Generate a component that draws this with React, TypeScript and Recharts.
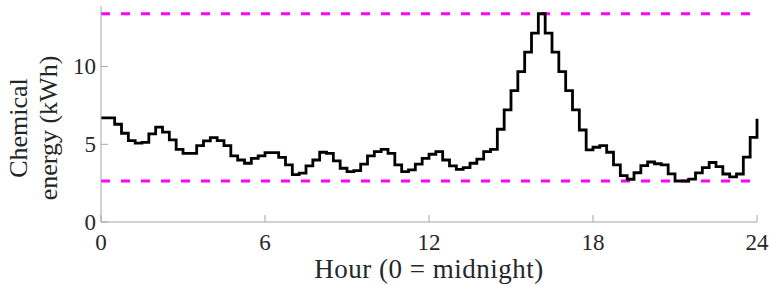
import React from "react";
import {
  LineChart,
  Line,
  XAxis,
  YAxis,
  ReferenceLine,
  Label,
} from "recharts";

// quarter-hour time stamps, 0 .. 24
const HOURS = [
  0, 0.25, 0.5, 0.75, 1, 1.25, 1.5, 1.75,
  2, 2.25, 2.5, 2.75, 3, 3.25, 3.5, 3.75,
  4, 4.25, 4.5, 4.75, 5, 5.25, 5.5, 5.75,
  6, 6.25, 6.5, 6.75, 7, 7.25, 7.5, 7.75,
  8, 8.25, 8.5, 8.75, 9, 9.25, 9.5, 9.75,
  10, 10.25, 10.5, 10.75, 11, 11.25, 11.5, 11.75,
  12, 12.25, 12.5, 12.75, 13, 13.25, 13.5, 13.75,
  14, 14.25, 14.5, 14.75, 15, 15.25, 15.5, 15.75,
  16, 16.25, 16.5, 16.75, 17, 17.25, 17.5, 17.75,
  18, 18.25, 18.5, 18.75, 19, 19.25, 19.5, 19.75,
  20, 20.25, 20.5, 20.75, 21, 21.25, 21.5, 21.75,
  22, 22.25, 22.5, 22.75, 23, 23.25, 23.5, 23.75,
  24,
];

// chemical energy (kWh)
const ENERGY = [
  6.7, 6.7, 6.29, 5.71, 5.24, 5.07, 5.13, 5.67,
  6.1, 5.78, 5.28, 4.68, 4.42, 4.42, 4.92, 5.22,
  5.43, 5.24, 4.92, 4.25, 3.99, 3.78, 4.1, 4.25,
  4.46, 4.46, 4.16, 3.67, 3.05, 3.14, 3.61, 3.99,
  4.49, 4.42, 3.93, 3.46, 3.24, 3.3, 3.73, 4.25,
  4.53, 4.68, 4.42, 3.67, 3.24, 3.35, 3.72, 4.1,
  4.36, 4.53, 3.99, 3.61, 3.39, 3.5, 3.78, 4.04,
  4.53, 4.68, 5.97, 7.21, 8.46, 9.68, 10.93, 12.15,
  13.4, 12.15, 10.93, 9.68, 8.46, 7.21, 5.92, 4.64,
  4.81, 4.91, 4.49, 3.67, 2.98, 2.75, 3.17, 3.63,
  3.86, 3.75, 3.68, 3.1, 2.64, 2.64, 2.76, 3.16,
  3.5, 3.83, 3.56, 3.09, 2.9, 3.09, 4.18, 5.44,
  6.65,
];

const UPPER_LIMIT = 13.4;
const LOWER_LIMIT = 2.64;

const X_TICKS = [0, 6, 12, 18, 24];
const Y_TICKS = [0, 5, 10];

const data = HOURS.map((h, i) => ({ hour: h, energy: ENERGY[i] }));

const FONT = '"Liberation Serif", "DejaVu Serif", serif';
const AXIS = "#a6a6a6";
const TEXT = "#262626";
const TICK_LEN = 7;

const BottomTick = ({ x, y, payload }: any) => (
  <g>
    <line x1={x} x2={x} y1={y} y2={y - TICK_LEN} stroke={AXIS} />
    <text
      x={x}
      y={y + 28}
      textAnchor="middle"
      style={{ fontFamily: FONT, fontSize: 23, fill: TEXT }}
    >
      {payload.value}
    </text>
  </g>
);

const TopTick = ({ x, y }: any) => (
  <line x1={x} x2={x} y1={y} y2={y + TICK_LEN} stroke={AXIS} />
);

const LeftTick = ({ x, y, payload }: any) => (
  <g>
    <line x1={x} x2={x + TICK_LEN} y1={y} y2={y} stroke={AXIS} />
    <text
      x={x - 5}
      y={y + 7.5}
      textAnchor="end"
      style={{ fontFamily: FONT, fontSize: 23, fill: TEXT }}
    >
      {payload.value}
    </text>
  </g>
);

const RightTick = ({ x, y }: any) => (
  <line x1={x} x2={x - TICK_LEN} y1={y} y2={y} stroke={AXIS} />
);

const YLabel = ({ viewBox }: any) => {
  const cy = viewBox.y + viewBox.height / 2 + 14;
  const style = { fontFamily: FONT, fontSize: 26, fill: TEXT };
  return (
    <g>
      <text x={27} y={cy} textAnchor="middle" transform={`rotate(-90, 27, ${cy})`} style={style}>
        Chemical
      </text>
      <text x={57} y={cy} textAnchor="middle" transform={`rotate(-90, 57, ${cy})`} style={style}>
        energy (kWh)
      </text>
    </g>
  );
};

export default function App() {
  return (
    <div style={{ background: "#fff", width: 771, height: 286 }}>
      <style>{`body{margin:0}`}</style>
      <LineChart
        width={771}
        height={286}
        data={data}
        margin={{ top: 6, right: 14, bottom: 0, left: 0 }}
      >
        <XAxis
          dataKey="hour"
          type="number"
          domain={[0, 24]}
          ticks={X_TICKS}
          height={64}
          tickSize={0}
          tickMargin={0}
          tickLine={false}
          axisLine={{ stroke: AXIS }}
          tick={<BottomTick />}
          interval={0}
        >
          <Label
            value="Hour (0 = midnight)"
            position="insideBottom"
            offset={8}
            style={{ fontFamily: FONT, fontSize: 27, fill: TEXT, letterSpacing: 0.5 }}
          />
        </XAxis>
        <XAxis
          xAxisId="top"
          orientation="top"
          dataKey="hour"
          type="number"
          domain={[0, 24]}
          ticks={X_TICKS}
          height={0}
          tickSize={0}
          tickMargin={0}
          tickLine={false}
          axisLine={{ stroke: AXIS }}
          tick={<TopTick />}
          interval={0}
        />
        <YAxis
          type="number"
          domain={[0, 13.9]}
          ticks={Y_TICKS}
          width={101}
          tickSize={0}
          tickMargin={0}
          tickLine={false}
          axisLine={{ stroke: AXIS }}
          tick={<LeftTick />}
          interval={0}
          label={{ content: YLabel }}
        />
        <YAxis
          yAxisId="right"
          orientation="right"
          type="number"
          domain={[0, 13.9]}
          ticks={Y_TICKS}
          width={0}
          tickSize={0}
          tickMargin={0}
          tickLine={false}
          axisLine={{ stroke: AXIS }}
          tick={<RightTick />}
          interval={0}
        />
        <ReferenceLine
          y={UPPER_LIMIT}
          stroke="#ff00ff"
          strokeWidth={2.8}
          strokeDasharray="9 11"
        />
        <ReferenceLine
          y={LOWER_LIMIT}
          stroke="#ff00ff"
          strokeWidth={2.8}
          strokeDasharray="9 11"
        />
        <Line
          type="stepAfter"
          dataKey="energy"
          stroke="#000"
          strokeWidth={2.8}
          dot={false}
          isAnimationActive={false}
        />
      </LineChart>
    </div>
  );
}
